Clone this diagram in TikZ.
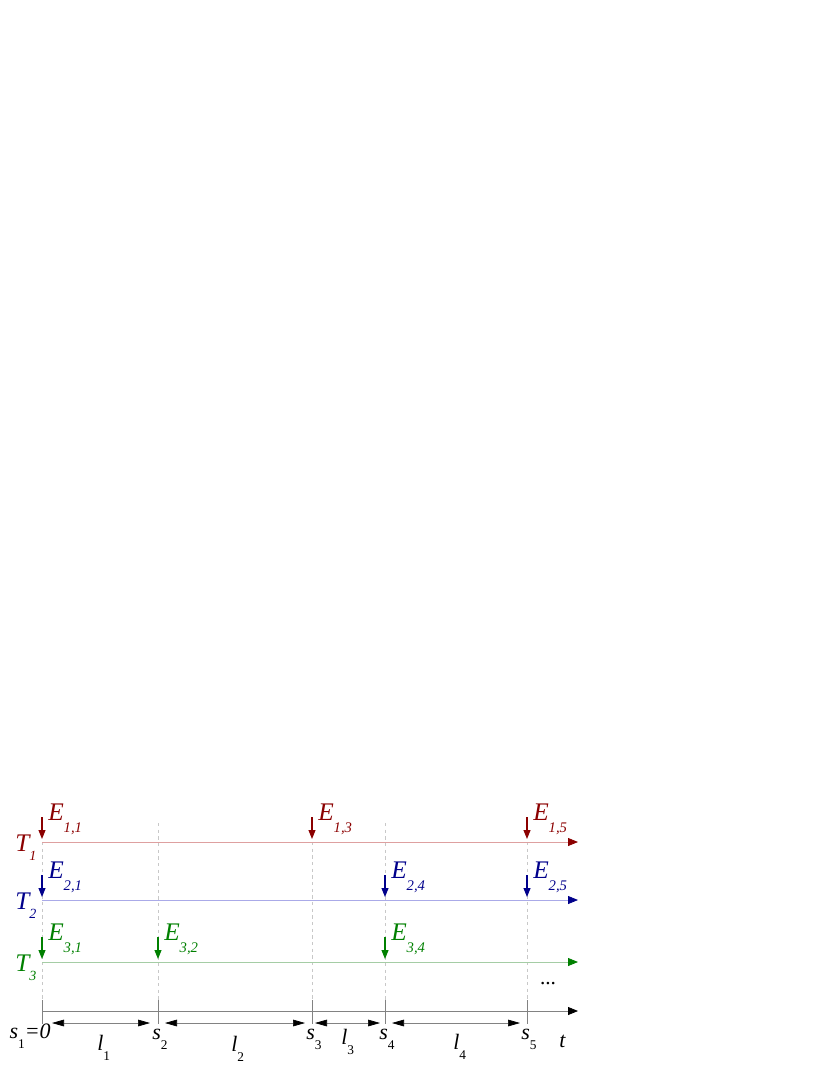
\documentclass[tikz,border=0pt]{standalone}
\usepackage{fontspec}
\setmainfont{Liberation Serif}
\usetikzlibrary{arrows.meta}
\definecolor{dred}{RGB}{139,0,0}
\definecolor{lred}{RGB}{222,160,160}
\definecolor{dblue}{RGB}{0,0,139}
\definecolor{lblue}{RGB}{170,170,232}
\definecolor{dgreen}{RGB}{0,128,0}
\definecolor{lgreen}{RGB}{165,205,165}
\definecolor{guide}{RGB}{200,200,200}
\definecolor{axisgray}{RGB}{130,130,130}
\newcommand{\esub}[1]{\raisebox{-9pt}{\fontsize{11}{12}\selectfont\itshape #1}}
\newcommand{\tsub}[1]{\raisebox{-7pt}{\fontsize{10.5}{11}\selectfont\itshape #1}}
\newcommand{\ssub}[1]{\raisebox{-7.5pt}{\fontsize{10}{11}\selectfont\upshape #1}}
\newcommand{\lsub}[1]{\raisebox{-8pt}{\fontsize{10}{11}\selectfont\upshape #1}}
\tikzset{
  biglab/.style={inner sep=0pt, anchor=base west, font=\fontsize{19}{20}\selectfont\itshape},
  medlab/.style={inner sep=0pt, anchor=base west, font=\fontsize{16.5}{18}\selectfont\itshape},
  earrow/.style={line width=0.8pt, -{Triangle[length=6.75pt,width=5.25pt]}},
  guideline/.style={guide, line width=0.5pt, dash pattern=on 2.5pt off 2.5pt},
  tick/.style={axisgray, line width=0.5pt},
  dimarrow/.style={axisgray, line width=0.5pt, {Triangle[black,length=9pt,width=5pt]}-{Triangle[black,length=9pt,width=5pt]}},
}
\begin{document}
\begin{tikzpicture}[x=0.75pt,y=-0.75pt]
\useasboundingbox (0,0) rectangle (830,1075);
% time positions
\foreach \n/\x in {1/42,2/158,3/312,4/385,5/527}{
  \coordinate (s\n) at (\x,1011);
}
\coordinate (tend) at (578,1011);
% horizontal lines
\coordinate (a1) at (42,842); \coordinate (b1) at (578,842);
\coordinate (a2) at (42,900); \coordinate (b2) at (578,900);
\coordinate (a3) at (42,962); \coordinate (b3) at (578,962);
% guide lines
\coordinate (g1) at (42,842);
\coordinate (g2) at (158,823);
\coordinate (g3) at (312,842);
\coordinate (g4) at (385,823);
\coordinate (g5) at (527,842);
\foreach \n in {1,...,5}{\draw[guideline] (g\n) -- (s\n);}
% ticks
\foreach \n in {1,...,5}{\draw[tick] ([yshift=8]s\n) -- ([yshift=-10]s\n);}
% task lines
\draw[line width=0.6pt, draw=lred, -{Triangle[dred,length=7.5pt,width=6pt]}] (a1) -- (b1);
\draw[line width=0.6pt, draw=lblue, -{Triangle[dblue,length=7.5pt,width=6pt]}] (a2) -- (b2);
\draw[line width=0.6pt, draw=lgreen, -{Triangle[dgreen,length=7.5pt,width=6pt]}] (a3) -- (b3);
% time axis
\draw[axisgray, line width=0.6pt, -{Triangle[black,length=7.5pt,width=6pt]}] (s1) -- (tend);
% task labels
\node[biglab, text=dred] (T1) at (15,851) {T\tsub{1}};
\node[biglab, text=dblue] (T2) at (15,909) {T\tsub{2}};
\node[biglab, text=dgreen] (T3) at (15,971) {T\tsub{3}};
% events
\foreach \x/\lab/\nm in {42/{1,1}/e11, 312/{1,3}/e13, 527/{1,5}/e15}{
  \coordinate (\nm t) at (\x,817); \coordinate (\nm h) at (\x,839);
  \draw[earrow, dred] (\nm t) -- (\nm h);
  \node[biglab, text=dred] (\nm) at (\x+6,820) {E\esub{\lab}};
}
\foreach \x/\lab/\nm in {42/{2,1}/e21, 385/{2,4}/e24, 527/{2,5}/e25}{
  \coordinate (\nm t) at (\x,875); \coordinate (\nm h) at (\x,897);
  \draw[earrow, dblue] (\nm t) -- (\nm h);
  \node[biglab, text=dblue] (\nm) at (\x+6,878) {E\esub{\lab}};
}
\foreach \x/\lab/\nm in {42/{3,1}/e31, 158/{3,2}/e32, 385/{3,4}/e34}{
  \coordinate (\nm t) at (\x,937); \coordinate (\nm h) at (\x,959);
  \draw[earrow, dgreen] (\nm t) -- (\nm h);
  \node[biglab, text=dgreen] (\nm) at (\x+6,940) {E\esub{\lab}};
}
% s labels
\node[medlab, anchor=base east] (S1) at (51,1038) {s\ssub{1}=0};
\node[medlab] (S2) at (152,1039) {s\ssub{2}};
\node[medlab] (S3) at (306,1039) {s\ssub{3}};
\node[medlab] (S4) at (379,1039) {s\ssub{4}};
\node[medlab] (S5) at (521,1039) {s\ssub{5}};
\node[medlab] (t) at (559,1047) {t};
\node[inner sep=0pt, font=\fontsize{16}{16}\selectfont] (dots) at (548,984) {...};
% dimension arrows
\coordinate (d1a) at (52,1023); \coordinate (d1b) at (150,1023);
\coordinate (d2a) at (165,1023); \coordinate (d2b) at (305,1023);
\coordinate (d3a) at (315,1023); \coordinate (d3b) at (380,1023);
\coordinate (d4a) at (392,1023); \coordinate (d4b) at (520,1023);
\draw[dimarrow] (d1a) -- (d1b);
\draw[dimarrow] (d2a) -- (d2b);
\draw[dimarrow] (d3a) -- (d3b);
\draw[dimarrow] (d4a) -- (d4b);
\node[medlab] (L1) at (97,1050) {l\lsub{1}};
\node[medlab] (L2) at (231,1051) {l\lsub{2}};
\node[medlab] (L3) at (341,1044) {l\lsub{3}};
\node[medlab] (L4) at (453,1049) {l\lsub{4}};
\end{tikzpicture}
\end{document}
